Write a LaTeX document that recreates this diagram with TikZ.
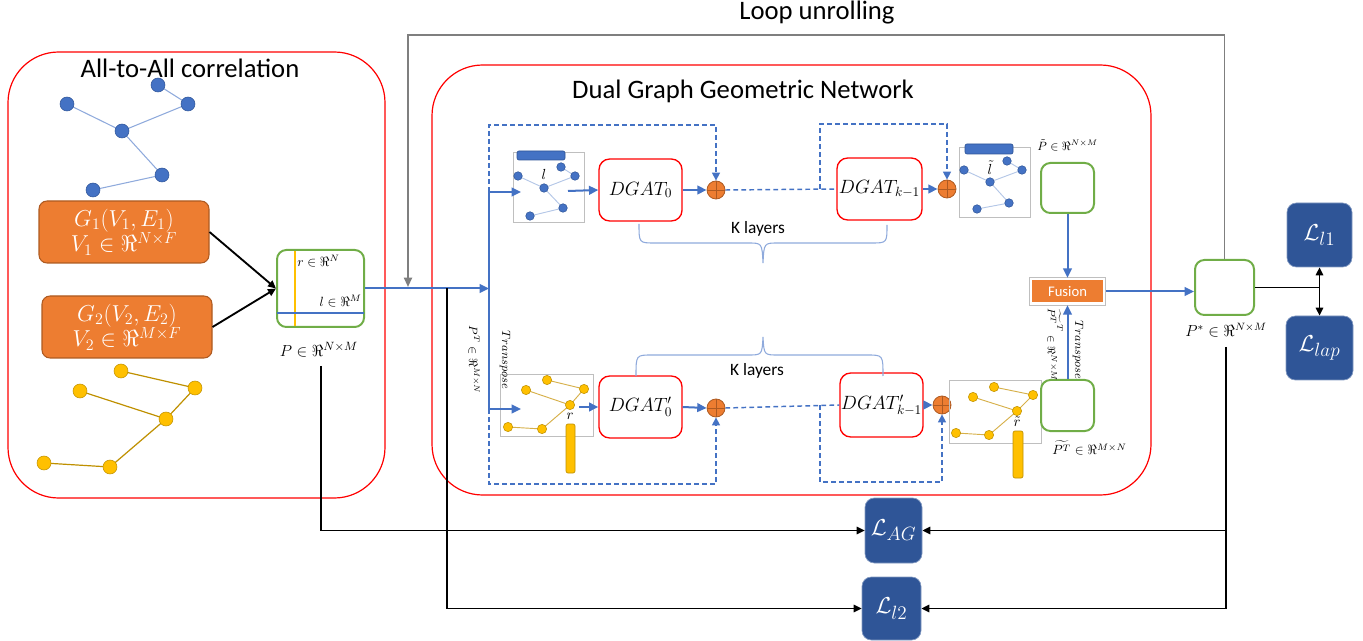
\documentclass[tikz,border=0pt]{standalone}
\usepackage{fontspec}
\setmainfont{Carlito}
\usetikzlibrary{arrows.meta,calc}
\definecolor{cblue}{HTML}{4472C4}
\definecolor{cblueD}{HTML}{2F5597}
\definecolor{cblueL}{HTML}{8FAADC}
\definecolor{cblueLL}{HTML}{B4C7E7}
\definecolor{cred}{HTML}{FF0000}
\definecolor{cgreen}{HTML}{70AD47}
\definecolor{corange}{HTML}{ED7D31}
\definecolor{corangeD}{HTML}{AE5A21}
\definecolor{closs}{HTML}{2F5597}
\definecolor{cgold}{HTML}{FFC000}
\definecolor{cgoldD}{HTML}{BF9000}
\definecolor{cgoldL}{HTML}{D6B04A}
\definecolor{cgray}{HTML}{7F7F7F}
\definecolor{cgrayL}{HTML}{BFBFBF}
\begin{document}
\begin{tikzpicture}[x=0.75pt,y=-0.75pt,
 sz/.style 2 args={minimum width={#1*0.75pt},minimum height={#2*0.75pt}},
 bigbox/.style={draw=cred, line width=0.9pt, rounded corners=38pt, inner sep=0pt},
 redbox/.style={draw=cred, line width=1pt, rounded corners=8pt, inner sep=0pt, font=\fontsize{14}{16}\selectfont},
 grnbox/.style={draw=cgreen, line width=1.5pt, rounded corners=7pt, inner sep=0pt},
 lossbox/.style={fill=closs, draw=closs!60!white, line width=0.5pt, rounded corners=7pt, inner sep=0pt, text=white, font=\fontsize{19}{22}\selectfont},
 orbox/.style={fill=corange, draw=corangeD, line width=0.8pt, rounded corners=6pt, text=white, align=center, inner sep=0pt, font=\fontsize{17}{21}\selectfont},
 gbox/.style={draw=cgrayL, line width=0.6pt, inner sep=0pt},
 oplus/.style={circle, fill=corange, draw=corangeD, line width=0.6pt, minimum size=13.5pt, inner sep=0pt,
   path picture={\draw[corangeD, line width=0.6pt] (path picture bounding box.north) -- (path picture bounding box.south)
   (path picture bounding box.west) -- (path picture bounding box.east);}},
 barrow/.style={draw=cblue, line width=1.5pt, -{Triangle[length=7pt,width=6.5pt]}},
 bline/.style={draw=cblue, line width=1.5pt},
 karrow/.style={draw=black, line width=1.4pt, -{Triangle[length=6pt,width=5.5pt]}},
 kline/.style={draw=black, line width=1.4pt},
 garrow/.style={draw=cgray, line width=1.4pt, -{Triangle[length=7pt,width=6pt]}},
 dline/.style={draw=cblue, line width=1.1pt, dash pattern=on 3.5pt off 2.5pt},
 darrow/.style={dline, -{Triangle[length=6pt,width=6pt]}},
 brc/.style={draw=cblueL, line width=0.8pt},
 ttl/.style={font=\fontsize{20}{24}\selectfont},
 lbl/.style={inner sep=0pt, font=\fontsize{10}{12}\selectfont},
 bnode/.style={fill=cblue, draw=cblueD, line width=0.4pt},
 ynode/.style={fill=cgold, draw=cgoldD, line width=0.4pt},
 bedge/.style={draw=cblueL, line width=0.8pt},
 bedgeS/.style={draw=cblueLL, line width=0.7pt},
 yedge/.style={draw=cgoldD, line width=0.9pt},
 yedgeS/.style={draw=cgoldL, line width=0.7pt},
]
\useasboundingbox (0,0) rectangle (1363,641);

% ---------- big frames ----------
\node[bigbox, sz={377}{446}] (left) at (196.5,275) {};
\node[bigbox, sz={719}{430}] (dual) at (791.5,280) {};
\node[ttl] (t1) at (190,68) {All-to-All correlation};
\node[ttl] (t2) at (743,91) {Dual Graph Geometric Network};
\node[ttl] (t3) at (817,13) {Loop unrolling};

% ---------- left graphs ----------
\draw[bedge] (67,104) -- (122,131) -- (188,104) -- (158,85);
\draw[bedge] (122,131) -- (162,175) -- (93,190);
\foreach \p in {(158,85),(67,104),(188,104),(122,131),(162,175),(93,190)}
  \path[bnode] \p circle[radius=5.25pt];
\draw[yedge] (121,371) -- (195,388) -- (166,419) -- (80,391);
\draw[yedge] (166,419) -- (110,467) -- (44,463);
\foreach \p in {(121,371),(195,388),(80,391),(166,419),(44,463),(110,467)}
  \path[ynode] \p circle[radius=5.25pt];

\node[orbox, sz={170}{62}] (G1) at (124,232) {$G_1(V_1,E_1)$\\[-2pt]$V_1\in\Re^{N\times F}$};
\node[orbox, sz={170}{62}] (G2) at (127,327) {$G_2(V_2,E_2)$\\[-2pt]$V_2\in\Re^{M\times F}$};

% ---------- P box ----------
\node[grnbox, sz={87}{77}] (P) at (320.5,288.5) {};
\draw[cgold, line width=1.5pt] (294.5,251) -- (294.5,326);
\draw[cblue, line width=1.5pt] (277,313) -- (364,313);
\node[lbl, anchor=west] (rl) at (297,261) {$r\in\Re^{N}$};
\node[lbl, anchor=east] (ll) at (362,301) {$l\in\Re^{M}$};
\node[inner sep=0pt, font=\fontsize{13}{15}\selectfont] (Plab) at (319,350) {$P\in\Re^{N\times M}$};
\draw[karrow] (G1.east) -- (P.west);
\draw[karrow] (G2.east) -- (P.west);

% ---------- coordinates ----------
\coordinate (vtop) at (489,192);
\coordinate (vmid) at (489,288.5);
\coordinate (vbot) at (489,409);
\coordinate (bj) at (447,288.5);
\coordinate (loopc) at (408,35);
\coordinate (loopend) at (408,287);

% ---------- top row ----------
\node[gbox, sz={71}{70}] (lg) at (548.5,187) {};
\draw[bedgeS] (518,176) -- (544,188) -- (575,176) -- (561,167);
\draw[bedgeS] (544,188) -- (563,208) -- (530,216);
\foreach \p in {(518,176),(561,167),(575,176),(544,188),(563,208),(530,216)}
  \path[bnode] \p circle[radius=3.2pt];
\path[fill=cblue, draw=cblueD, line width=0.5pt, rounded corners=1.5pt] (517,151) rectangle (565,160);
\node[lbl, font=\fontsize{11}{12}\selectfont] (lsym) at (544,174) {$l$};

\node[redbox, sz={83}{62}] (D0) at (640.5,190) {$DGAT_0$};
\node[oplus] (c1) at (716,190) {};
\node[redbox, sz={85}{62}] (Dk) at (879.5,189) {$DGAT_{k-1}$};
\node[oplus] (c2) at (947,189) {};

\node[gbox, sz={71}{70}] (ltg) at (994.5,182) {};
\draw[bedgeS] (964,170) -- (990,182) -- (1022,170) -- (1007,161);
\draw[bedgeS] (990,182) -- (1009,203) -- (977,209);
\foreach \p in {(964,170),(1007,161),(1022,170),(990,182),(1009,203),(977,209)}
  \path[bnode] \p circle[radius=3.2pt];
\path[fill=cblue, draw=cblueD, line width=0.5pt, rounded corners=1.5pt] (965,144) rectangle (1013,154);
\node[lbl, font=\fontsize{11}{12}\selectfont] (ltsym) at (990,168) {$\tilde{l}$};

\node[grnbox, sz={53}{50}] (Pt) at (1067.5,188) {};
\node[lbl, anchor=west, font=\fontsize{9}{11}\selectfont] (Ptlab) at (1037,145) {$\tilde{P}\in\Re^{N\times M}$};

\coordinate (a1s) at (568,191);
\coordinate (a1e) at (521,192);
\draw[bline] (vtop) -- (vbot);
\draw[barrow] (vtop) -- (a1e);
\draw[barrow] (a1s) -- (D0.west);
\draw[barrow] (D0.east) -- (c1.west);
\draw[dline] (c1.east) -- (Dk.west);
\draw[barrow] (Dk.east) -- (c2.west);
\coordinate (d1) at (716,125);
\draw[darrow] (vtop) |- (d1) -- (c1.north);
\coordinate (d2s) at (820,189);
\coordinate (d2) at (947,124);
\draw[darrow] (d2s) |- (d2) -- (c2.north);

% brace top
\draw[brc] (639,224) .. controls (639,243) .. (655,243) -- (748,243) .. controls (762,243) .. (763,263)
  .. controls (764,243) .. (778,243) -- (871,243) .. controls (887,243) .. (887,225);
\node[font=\fontsize{13}{15}\selectfont] (k1) at (758,229) {K layers};

% ---------- bottom row ----------
\node[gbox, sz={93}{62}] (rg) at (546.5,405) {};
\draw[yedgeS] (547,380) -- (584,389) -- (570,405) -- (526,390);
\draw[yedgeS] (570,405) -- (542,429) -- (508,427);
\foreach \p in {(547,380),(526,390),(584,389),(570,405),(508,427),(542,429)}
  \path[ynode] \p circle[radius=3.5pt];
\path[fill=cgold, draw=cgoldD, line width=0.5pt, rounded corners=1.5pt] (566,424) rectangle (575,473);
\node[lbl, font=\fontsize{11}{12}\selectfont] (rsym) at (570,416) {$r$};

\node[redbox, sz={83}{62}] (E0) at (640.5,407) {$DGAT'_0$};
\node[oplus] (c3) at (716,408) {};
\node[redbox, sz={83}{64}] (Ek) at (881.5,405) {$DGAT'_{k-1}$};
\node[oplus] (c4) at (942,405) {};

\node[gbox, sz={92}{63}] (rtg) at (995,411.5) {};
\draw[yedgeS] (994,387) -- (1033,395) -- (1017,411) -- (973,397);
\draw[yedgeS] (1017,411) -- (989,435) -- (956,433);
\foreach \p in {(994,387),(973,397),(1033,395),(1017,411),(956,433),(989,435)}
  \path[ynode] \p circle[radius=3.5pt];
\path[fill=cgold, draw=cgoldD, line width=0.5pt, rounded corners=1.5pt] (1013,431) rectangle (1023,478);
\node[lbl, font=\fontsize{11}{12}\selectfont] (rtsym) at (1017,422) {$\tilde{r}$};

\node[grnbox, sz={53}{51}] (PT) at (1067.5,405.5) {};
\node[lbl, anchor=west, font=\fontsize{10}{12}\selectfont] (PTlab) at (1052,448) {$\widetilde{P^{T}}\in\Re^{M\times N}$};

\coordinate (a2e) at (521,409);
\coordinate (a2s) at (579,407);
\draw[barrow] (vbot) -- (a2e);
\draw[barrow] (a2s) -- (E0.west);
\draw[barrow] (E0.east) -- (c3.west);
\draw[dline] (c3.east) -- (Ek.west);
\draw[barrow] (Ek.east) -- (c4.west);
\coordinate (d3) at (716,484);
\draw[darrow] (vbot) |- (d3) -- (c3.south);
\coordinate (d4s) at (820,405);
\coordinate (d4) at (942,482);
\draw[darrow] (d4s) |- (d4) -- (c4.south);

% brace bottom
\draw[brc] (636,376) .. controls (636,355) .. (652,355) -- (748,355) .. controls (762,355) .. (763,337)
  .. controls (764,355) .. (778,355) -- (867,355) .. controls (883,355) .. (883,376);
\node[font=\fontsize{13}{15}\selectfont] (k2) at (757,371) {K layers};

% rotated labels
\node[lbl, rotate=-90, font=\fontsize{9}{11}\selectfont] (tr1) at (505,360) {$Transpose$};
\node[lbl, rotate=-90, font=\fontsize{9}{11}\selectfont] (pt1) at (474,360) {$P^{T}\in\Re^{M\times N}$};
\node[lbl, rotate=-90, font=\fontsize{9}{11}\selectfont] (tr2) at (1078,350) {$Transpose$};
\node[lbl, rotate=-90, font=\fontsize{8.5}{10}\selectfont] (pt2) at (1055,345) {$\widetilde{P^{T}}^{T}\in\Re^{N\times M}$};

% ---------- fusion ----------
\node[fill=corange, inner sep=0pt, sz={71}{22}, text=white, font=\fontsize{11}{13}\selectfont] (F) at (1067.5,291.5) {Fusion};
\draw[cgrayL, line width=0.6pt] ($(F.south west)+(-2.5,2.5)$) rectangle ($(F.north east)+(2.5,-2.5)$);
\draw[barrow] (Pt.south) -- ([yshift=2.5*0.75pt]F.north);
\draw[barrow] (PT.north) -- ([yshift=-2.5*0.75pt]F.south);

% ---------- P* and losses ----------
\node[grnbox, sz={59}{55}] (Ps) at (1224.5,287.5) {};
\node[inner sep=0pt, font=\fontsize{12}{14}\selectfont] (Pslab) at (1226,330) {$P^{*}\in\Re^{N\times M}$};
\draw[barrow] ([xshift=2.5*0.75pt]F.east) -- (F.east -| Ps.west);

\node[lossbox, sz={65}{64}] (L1) at (1319.5,235) {$\mathcal{L}_{l1}$};
\node[lossbox, sz={67}{64}] (Llap) at (1319.5,348) {$\mathcal{L}_{lap}$};
\node[lossbox, sz={57}{65}] (LAG) at (893.5,530.5) {$\mathcal{L}_{AG}$};
\node[lossbox, sz={59}{63}] (L2) at (891.5,608.5) {$\mathcal{L}_{l2}$};

\coordinate (jn) at (Ps.east -| L1.south);
\draw[kline] (Ps.east) -- (jn);
\draw[karrow] (jn) -- (L1.south);
\draw[karrow] (jn) -- (Llap.north);

% main blue line and loop
\draw[barrow] (P.east) -- (vmid);
\draw[garrow] (Ps.north) |- (loopc) -- (loopend);

% black loss connectors
\coordinate (lj) at (321,366);
\coordinate (rj) at (1226,347);
\draw[karrow] (lj) |- (LAG.west);
\draw[karrow] (bj) |- (L2.west);
\draw[karrow] (rj) |- (L2.east);
\draw[karrow] (rj |- LAG.east) -- (LAG.east);
\end{tikzpicture}
\end{document}
